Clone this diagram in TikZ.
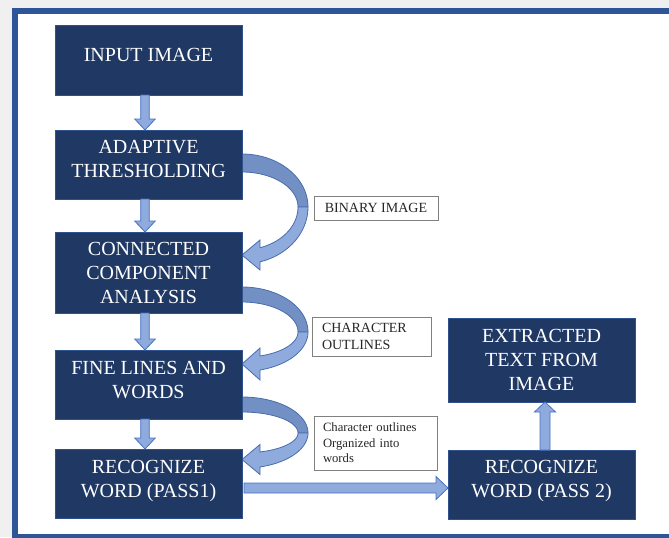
\documentclass[tikz,border=0pt]{standalone}
\usepackage{fontspec}
\setmainfont{Liberation Serif}
\usetikzlibrary{calc}
\definecolor{navy}{HTML}{1F3864}
\definecolor{navyedge}{HTML}{2F528F}
\definecolor{frameblue}{HTML}{2E5597}
\definecolor{arrfill}{HTML}{8FAADC}
\definecolor{arrline}{HTML}{4472C4}
\definecolor{cdark}{HTML}{7290C3}
\definecolor{cline}{HTML}{4A6DAE}
\definecolor{bggrey}{HTML}{F0F0F0}
\tikzset{
  procbox/.style={draw=navyedge, line width=0.6pt, fill=navy, text=white,
    minimum width=140.25pt, align=center, inner sep=0pt, outer sep=0pt,
    font=\fontsize{15}{18}\selectfont},
  notebox/.style={draw=black!50, line width=0.7pt, fill=white, text=black!85,
    inner sep=0pt, outer sep=0pt},
  blk/.style={fill=arrfill, draw=arrline, line width=0.6pt, line join=miter},
  curvdark/.style={fill=cdark, draw=cline, line width=0.6pt, line join=round},
  curvlight/.style={fill=arrfill, draw=cline, line width=0.6pt, line join=miter},
}
\newcommand{\blkdown}[2]{\draw[blk] let \p1=#1, \p2=#2 in
  (\x1-3.2pt,\y1) -- (\x1-3.2pt,\y2+8.25pt) -- (\x1-7.7pt,\y2+8.25pt) -- (\x1,\y2)
  -- (\x1+7.7pt,\y2+8.25pt) -- (\x1+3.2pt,\y2+8.25pt) -- (\x1+3.2pt,\y1) -- cycle;}
\newcommand{\blkup}[2]{\draw[blk] let \p1=#1, \p2=#2 in
  (\x1-3.75pt,\y1) -- (\x1-3.75pt,\y2-7.5pt) -- (\x1-7.9pt,\y2-7.5pt) -- (\x1,\y2)
  -- (\x1+7.9pt,\y2-7.5pt) -- (\x1+3.75pt,\y2-7.5pt) -- (\x1+3.75pt,\y1) -- cycle;}
\newcommand{\blkright}[2]{\draw[blk] let \p1=#1, \p2=#2 in
  (\x1,\y1+3.75pt) -- (\x2-9pt,\y1+3.75pt) -- (\x2-9pt,\y1+8.6pt) -- (\x2,\y1)
  -- (\x2-9pt,\y1-8.6pt) -- (\x2-9pt,\y1-3.75pt) -- (\x1,\y1-3.75pt) -- cycle;}
% #1 cy, #2 upper outer ry, #3 upper inner ry, #4 lower outer ry, #5 lower inner ry, #6 tip y, #7 half head
\newcommand{\curvarr}[7]{%
  \path[curvdark] plot[domain=-90:0, samples=40] ({242+66*cos(\x)},{#1+#2*sin(\x)})
    -- plot[domain=0:-90, samples=40] ({242+56*cos(\x)},{#1+#3*sin(\x)}) -- cycle;
  \path[curvlight] plot[domain=0:74.17, samples=40] ({242+66*cos(\x)},{#1+#4*sin(\x)})
    -- (260,{#6+#7}) -- (242,#6) -- (260,{#6-#7})
    -- plot[domain=71.25:0, samples=40] ({242+56*cos(\x)},{#1+#5*sin(\x)}) -- cycle;}
\begin{document}
\begin{tikzpicture}[x=0.75pt, y=-0.75pt]
\useasboundingbox (0,0) rectangle (669,537);
\clip (0,0) rectangle (669,537);
\fill[bggrey] (0,0) rectangle (669,537);
\fill[white] (15,11) rectangle (700,560);
\draw[frameblue, line width=4.5pt] (15,11) rectangle (700,537);

% curved arrows
\curvarr{207}{53}{35}{57}{43}{255}{15}
\curvarr{332}{45}{30}{39.5}{25.3}{364}{16}
\curvarr{433}{36}{21}{35.3}{20}{459.5}{15}

% process boxes
\node[procbox, minimum height=52.5pt, text depth=7.5pt] (in) at (148.5,60) {INPUT IMAGE};
\node[procbox, minimum height=51.75pt, text depth=8.25pt] (adapt) at (148.5,164.5) {ADAPTIVE\\THRESHOLDING};
\node[procbox, minimum height=60.75pt] (conn) at (148.5,272.5) {CONNECTED\\COMPONENT\\ANALYSIS};
\node[procbox, minimum height=51.75pt, text depth=7.5pt] (fine) at (148.5,384.5) {FINE LINES AND\\WORDS};
\node[procbox, minimum height=51.75pt, text depth=7pt] (pone) at (148.5,483.5) {RECOGNIZE\\WORD (PASS1)};
\node[procbox, minimum height=63pt] (ext) at (541.5,360) {EXTRACTED\\TEXT FROM\\IMAGE};
\node[procbox, minimum height=51.75pt, text depth=8pt] (ptwo) at (541.5,484.5) {RECOGNIZE\\WORD (PASS 2)};

% note boxes
\node[notebox, minimum width=93pt, minimum height=18pt, font=\fontsize{10.5}{12}\selectfont] (bin) at (376,208) {BINARY IMAGE};
\node[notebox, text width=74.25pt, inner xsep=7.5pt, minimum height=29.25pt, align=left,
  font=\fontsize{10.5}{12.75}\selectfont] (cho) at (371.5,336.5) {CHARACTER\\OUTLINES};
\node[notebox, text width=78.75pt, inner xsep=6.75pt, minimum height=40.5pt, align=left,
  font=\fontsize{9.5}{11.6}\selectfont] (cow) at (375.5,443) {Character outlines\\Organized into\\words};

% block arrows
\blkdown{($(in.south)+(-3.5,0)$)}{($(adapt.north)+(-3.5,0)$)}
\blkdown{($(adapt.south)+(-3.5,0)$)}{($(conn.north)+(-3.5,0)$)}
\blkdown{($(conn.south)+(-3.5,0)$)}{($(fine.north)+(-3.5,0)$)}
\blkdown{($(fine.south)+(-3.5,0)$)}{($(pone.north)+(-3.5,0)$)}
\blkright{($(pone.east)+(2,4.5)$)}{(ptwo.west)}
\blkup{($(ptwo.north)+(3.5,0)$)}{($(ext.south)+(3.5,0)$)}
\end{tikzpicture}
\end{document}
